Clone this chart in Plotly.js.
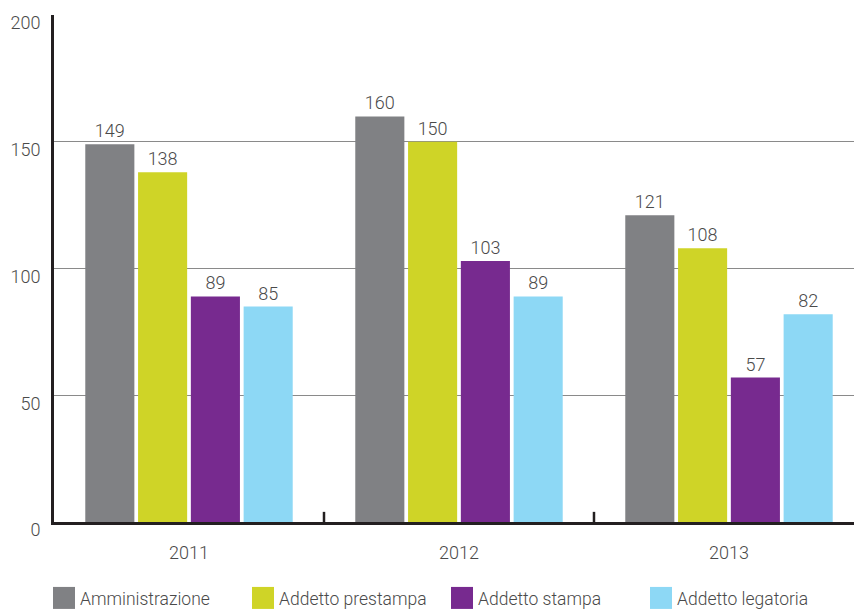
<!DOCTYPE html>
<html>
<head>
<meta charset="utf-8">
<script src="https://cdn.plot.ly/plotly-3.0.1.min.js"></script>
<style>html,body{margin:0;padding:0;background:#fff;}#chart{width:854px;height:609px;}</style>
</head>
<body>
<div id="chart"></div>
<script>
var years = ['2011', '2012', '2013'];
var seriesNames = ['Amministrazione', 'Addetto prestampa', 'Addetto stampa', 'Addetto legatoria'];
var amministrazione = [149, 160, 121];
var prestampa = [138, 150, 108];
var stampa = [89, 103, 57];
var legatoria = [85, 89, 82];
var yTicks = [0, 50, 100, 150, 200];
var colors = ['#808184', '#CFD427', '#772A8F', '#8DD8F5'];
var values = [amministrazione, prestampa, stampa, legatoria];

var font = 'Roboto, "DejaVu Sans", sans-serif';
var txtColor = '#4a4a4a';
var traces = values.map(function (v, i) {
  return {
    type: 'bar', name: seriesNames[i], x: years, y: v,
    marker: {color: colors[i]},
    text: v.map(String), textposition: 'outside', cliponaxis: false,
    textfont: {family: font, size: 18, color: txtColor, weight: 300},
    hoverinfo: 'none'
  };
});

var layout = {
  width: 854, height: 609,
  margin: {l: 54, r: 0, t: 15, b: 87, autoexpand: false},
  paper_bgcolor: '#fff', plot_bgcolor: '#fff',
  font: {family: font, color: txtColor, size: 18, weight: 300},
  barmode: 'group', bargap: 0.218, bargroupgap: 0.07,
  showlegend: true,
  legend: {orientation: 'h', x: -0.0175, xanchor: 'left', y: -0.15, yanchor: 'middle',
    font: {family: font, size: 17.5, color: txtColor, weight: 300}, traceorder: 'normal',
    itemwidth: 30, entrywidth: 154, entrywidthmode: 'pixels'},
  xaxis: {type: 'category', range: [-0.5, 2.463], showgrid: false, zeroline: false,
    showline: true, linecolor: '#231f20', linewidth: 3, ticks: '', ticklabelstandoff: 12,
    tickfont: {size: 18, weight: 300}},
  yaxis: {range: [0, 200], tickvals: yTicks, ticktext: yTicks.map(String),
    showgrid: true, gridcolor: '#8a8a8a', gridwidth: 1.3, zeroline: false,
    showline: true, linecolor: '#231f20', linewidth: 3, mirror: false,
    ticks: 'outside', ticklen: 7, tickcolor: 'rgba(0,0,0,0)', ticklabelshift: 8,
    tickfont: {size: 18, weight: 300}},
  shapes: [0.5, 1.5].map(function (b) {
    return {type: 'line', xref: 'x', yref: 'y', x0: b, x1: b, y0: 0, y1: 4,
      line: {color: '#231f20', width: 2.5}};
  })
};

Plotly.newPlot('chart', traces, layout, {displayModeBar: false, staticPlot: true}).then(function (gd) {
  var pts = gd.querySelectorAll('.legend .legendpoints path');
  pts.forEach(function (p) {
    p.setAttribute('d', 'M11,11H-11V-11H11Z');
    var t = p.getAttribute('transform') || '';
    p.setAttribute('transform', t + ' translate(4,0)');
    p.style.strokeWidth = '0px';
  });
});
</script>
</body>
</html>
